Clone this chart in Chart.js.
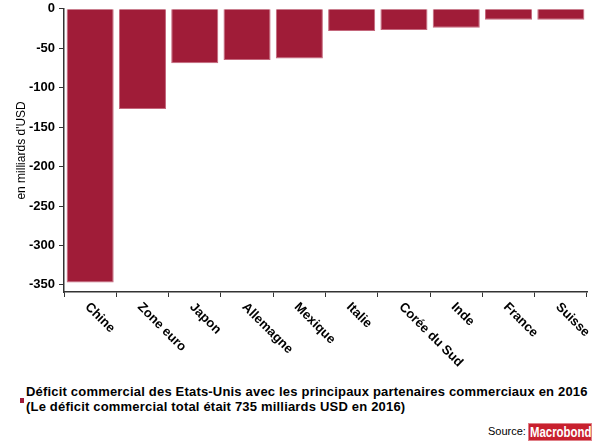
<!DOCTYPE html>
<html>
<head>
<meta charset="utf-8">
<script src="https://cdn.jsdelivr.net/npm/chart.js@4/dist/chart.umd.min.js"></script>
<style>
  html, body { margin: 0; padding: 0; background: #fff; }
  #wrap { position: relative; width: 599px; height: 442px; overflow: hidden; font-family: "Liberation Sans", Arial, sans-serif; }
  #c { position: absolute; left: 0; top: -3px; }
  #legend { position: absolute; left: 26px; top: 384px; font-weight: bold; font-size: 13px; line-height: 15px; letter-spacing: 0.19px; color: #000; white-space: nowrap; }
  #marker { position: absolute; left: 20px; top: 398px; width: 4px; height: 5px; background: #A01C38; }
  #source { position: absolute; left: 488px; top: 424px; font-size: 11px; line-height: 14px; color: #000; }
  #logo { position: absolute; left: 528px; top: 423px; width: 64px; height: 18px; background: #c8202e; border: 1px solid #e08088; box-sizing: border-box; overflow: hidden; }
  #logo span { display: block; width: 80px; transform: scaleX(0.76); transform-origin: 0 0; color: #fff; font-weight: bold; font-size: 15px; line-height: 16px; text-align: center; margin-left: 1px; }
</style>
</head>
<body>
<div id="wrap">
  <canvas id="c" width="599" height="375"></canvas>
  <div id="marker"></div>
  <div id="legend">Déficit commercial des Etats-Unis avec les principaux partenaires commerciaux en 2016<br>(Le déficit commercial total était 735 milliards USD en 2016)</div>
  <div id="source">Source:</div>
  <div id="logo"><span>Macrobond</span></div>
</div>
<script>
const categories = ["Chine", "Zone euro", "Japon", "Allemagne", "Mexique", "Italie", "Corée du Sud", "Inde", "France", "Suisse"];
const deficit = [-347, -127, -69, -65, -63, -28, -27, -24, -14, -14];
const yTicks = [0, -50, -100, -150, -200, -250, -300, -350];
const yTitle = "en milliards d'USD";

const BAR = '#A01C38';

const xLabelPlugin = {
  id: 'xLabels',
  afterDraw(chart) {
    const ctx = chart.ctx;
    const xs = chart.scales.x;
    ctx.save();
    ctx.font = 'bold 13px "Liberation Sans", Arial, sans-serif';
    ctx.fillStyle = '#000';
    ctx.textAlign = 'left';
    ctx.textBaseline = 'middle';
    categories.forEach((lab, i) => {
      const x = xs.getPixelForValue(i);
      ctx.save();
      ctx.translate(x - 3, xs.top + 13);
      ctx.rotate(Math.PI / 4);
      ctx.fillText(lab, 0, 0);
      ctx.restore();
    });
    ctx.restore();
  }
};

new Chart(document.getElementById('c'), {
  type: 'bar',
  data: {
    labels: categories,
    datasets: [{
      data: deficit,
      backgroundColor: BAR,
      borderColor: '#c4677c',
      borderWidth: 1,
      barPercentage: 0.9,
      categoryPercentage: 1.0
    }]
  },
  options: {
    responsive: false,
    animation: false,
    events: [],
    layout: { padding: { top: 5, right: 12, left: 14, bottom: 0 } },
    plugins: { legend: { display: false }, tooltip: { enabled: false } },
    scales: {
      x: {
        offset: true,
        grid: { offset: true, drawOnChartArea: false, drawTicks: true, tickLength: 5, color: '#333', lineWidth: 1 },
        border: { display: true, color: '#333', width: 1.5 },
        ticks: { display: false },
        afterFit(scale) { scale.height = 80; }
      },
      y: {
        min: -359,
        max: 0,
        afterBuildTicks(scale) { scale.ticks = yTicks.map(v => ({ value: v })); },
        grid: { drawOnChartArea: false, drawTicks: true, tickLength: 5, color: '#333', lineWidth: 1 },
        border: { display: true, color: '#333', width: 1.5 },
        ticks: {
          color: '#000',
          padding: 4,
          font: { family: '"Liberation Sans", Arial, sans-serif', size: 13, weight: 'bold' }
        },
        title: {
          display: true,
          text: yTitle,
          color: '#000',
          padding: { top: 0, bottom: 0 },
          font: { family: '"Liberation Sans", Arial, sans-serif', size: 12, weight: 'normal' }
        },
        afterFit(scale) { scale.width = 50; }
      }
    }
  },
  plugins: [xLabelPlugin]
});
</script>
</body>
</html>
